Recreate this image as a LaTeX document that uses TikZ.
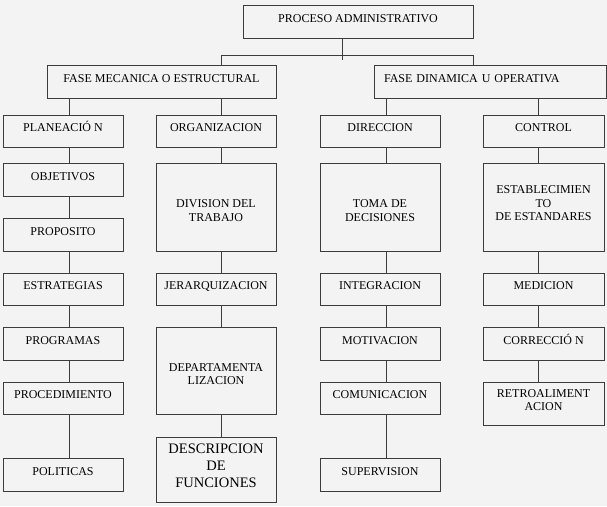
\documentclass[tikz,border=0pt]{standalone}
\usepackage{fontspec}
\setmainfont{Liberation Serif}
\usetikzlibrary{calc}
\definecolor{fondo}{HTML}{F3F3F3}
\definecolor{linea}{HTML}{3C3C3C}
\tikzset{
  caja/.style={draw=linea,line width=1pt,minimum width=120pt,minimum height=32pt,
    align=center,inner sep=1pt,text height=8pt,text depth=7pt,
    font=\fontsize{12}{13.5}\selectfont},
  varias/.style={caja,text height=,text depth=},
  conector/.style={draw=linea,line width=1pt},
}
\begin{document}
\begin{tikzpicture}[x=1pt,y=-1pt]
  \fill[fondo] (0,0) rectangle (607,506);
  \useasboundingbox (0,0) rectangle (607,506);
  % cabecera
  \draw (358,21.5) node[caja,minimum width=230pt,minimum height=33pt](proc){PROCESO ADMINISTRATIVO};
  \draw (161.5,81.5) node[caja,minimum width=229pt,minimum height=33pt](fmec){FASE MECANICA O ESTRUCTURAL};
  \draw (490,81.5) node[caja,minimum width=232pt,minimum height=33pt,text width=212pt,align=left](fdin){FASE DINAMICA U OPERATIVA};
  % planeacion
  \draw (63,131) node[caja](plan){PLANEACIÓ N};
  \draw (63,179.5) node[caja,minimum height=33pt](obj){OBJETIVOS};
  \draw (63,234.5) node[caja,minimum height=33pt](prop){PROPOSITO};
  \draw (63,289) node[caja](estr){ESTRATEGIAS};
  \draw (63,343.5) node[caja,minimum height=33pt](prog){PROGRAMAS};
  \draw (63,398) node[caja](procd){PROCEDIMIENTO};
  \draw (63,474.5) node[caja,minimum height=33pt](pol){POLITICAS};
  % organizacion
  \draw (216,131) node[caja](org){ORGANIZACION};
  \draw (216,207) node[varias,minimum height=88pt](div){\rule{0pt}{15pt}DIVISION DEL\\TRABAJO};
  \draw (216,289) node[caja](jer){JERARQUIZACION};
  \draw (216,370.5) node[varias,minimum height=87pt](dep){\rule{0pt}{15pt}DEPARTAMENTA\\LIZACION};
  \draw (216,469.5) node[varias,minimum height=65pt,font=\fontsize{14.5}{17}\selectfont](desc){DESCRIPCION\\DE\\FUNCIONES\rule[-7pt]{0pt}{7pt}};
  % direccion
  \draw (380,131) node[caja](dir){DIRECCION};
  \draw (380,207) node[varias,minimum height=88pt](toma){\rule{0pt}{15pt}TOMA DE\\DECISIONES};
  \draw (380,289) node[caja](integ){INTEGRACION};
  \draw (380,343.5) node[caja,minimum height=33pt](mot){MOTIVACION};
  \draw (380,398) node[caja](com){COMUNICACION};
  \draw (380,474.5) node[caja,minimum height=33pt](sup){SUPERVISION};
  % control
  \draw (543.5,131) node[caja,minimum width=121pt](ctrl){CONTROL};
  \draw (543.5,207) node[varias,minimum width=121pt,minimum height=88pt](est){ESTABLECIMIEN\\TO\\DE ESTANDARES\rule[-7pt]{0pt}{7pt}};
  \draw (543.5,289) node[caja,minimum width=121pt](med){MEDICION};
  \draw (543.5,343.5) node[caja,minimum width=121pt,minimum height=33pt](corr){CORRECCIÓ N};
  \draw (543.5,403.5) node[varias,minimum width=121pt,minimum height=43pt](retro){RETROALIMENT\\ACION\rule[-7pt]{0pt}{7pt}};
  % lineas
  \coordinate (c1) at (69,0);
  \coordinate (c2) at (221,0);
  \coordinate (c3) at (386,0);
  \coordinate (c4) at (538,0);
  \coordinate (bus) at (342,55);
  \coordinate (busfin) at (342,60);
  \draw[conector] (proc.south -| busfin) -- (busfin);
  \draw[conector] (fmec.north -| c2) -- (c2 |- bus) -- (bus -| proc.east) -- (fdin.north -| proc.east);
  \foreach \a/\b in {fmec/plan,plan/obj,obj/prop,prop/estr,estr/prog,prog/procd,procd/pol}
    \draw[conector] (\a.south -| c1) -- (\b.north -| c1);
  \foreach \a/\b in {fmec/org,org/div,div/jer,jer/dep,dep/desc}
    \draw[conector] (\a.south -| c2) -- (\b.north -| c2);
  \foreach \a/\b in {fdin/dir,dir/toma,toma/integ,integ/mot,mot/com,com/sup}
    \draw[conector] (\a.south -| c3) -- (\b.north -| c3);
  \foreach \a/\b in {fdin/ctrl,ctrl/est,est/med,med/corr,corr/retro}
    \draw[conector] (\a.south -| c4) -- (\b.north -| c4);
\end{tikzpicture}
\end{document}
